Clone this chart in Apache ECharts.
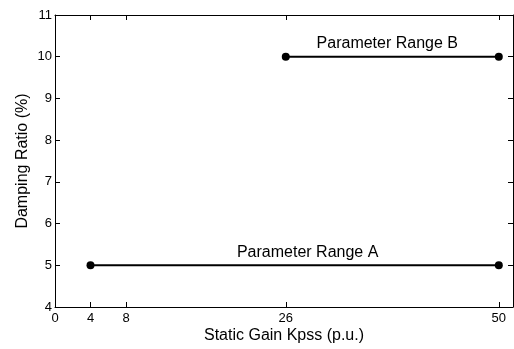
<!DOCTYPE html>
<html><head><meta charset="utf-8">
<script src="https://cdn.jsdelivr.net/npm/echarts@6/dist/echarts.min.js"></script>
<style>html,body{margin:0;padding:0;background:#fff}#c{width:514px;height:349px}</style>
</head><body><div id="c"></div>
<script>
const xTicks = [0, 4, 8, 26, 50];
const rangeA = [[4, 5], [50, 5]];
const rangeB = [[26, 10], [50, 10]];
const labelA = 'Parameter Range A';
const labelB = 'Parameter Range B';
const xTitle = 'Static Gain Kpss (p.u.)';
const yTitle = 'Damping Ratio (%)';

const font = 'Liberation Sans, Arial, sans-serif';
const chart = echarts.init(document.getElementById('c'));
const axLine = {show: true, lineStyle: {color: '#000', width: 1}};
const tick = {show: true, inside: true, length: 5, lineStyle: {color: '#000'}};
function xAxis(pos, showLabels) {
  return {
    type: 'value', position: pos, min: 0, max: 51.6,
    axisLine: Object.assign({onZero: false}, axLine),
    axisTick: Object.assign({customValues: xTicks}, tick),
    axisLabel: {show: showLabels, customValues: xTicks, color: '#000', fontFamily: font, fontSize: 13, margin: 5},
    splitLine: {show: false},
    name: showLabels ? xTitle : '', nameLocation: 'middle', nameGap: 21, nameMoveOverlap: false,
    nameTextStyle: {color: '#000', fontFamily: font, fontSize: 16}
  };
}
function yAxis(pos, showLabels) {
  return {
    type: 'value', position: pos, min: 4, max: 11, interval: 1,
    axisLine: Object.assign({onZero: false}, axLine),
    axisTick: tick,
    axisLabel: {show: showLabels, color: '#000', fontFamily: font, fontSize: 13, margin: 3},
    splitLine: {show: false},
    name: showLabels ? yTitle : '', nameLocation: 'middle', nameGap: 24, nameMoveOverlap: false,
    nameTextStyle: {color: '#000', fontFamily: font, fontSize: 16}
  };
}
function seg(data) {
  return {
    type: 'line', data: data, xAxisIndex: 0, yAxisIndex: 0,
    symbol: 'circle', symbolSize: 8, itemStyle: {color: '#000'},
    lineStyle: {color: '#000', width: 2}, animation: false, silent: true
  };
}
chart.setOption({
  animation: false,
  grid: {left: 55, right: 1, top: 15, bottom: 39},
  xAxis: [xAxis('bottom', true), xAxis('top', false)],
  yAxis: [yAxis('left', true), yAxis('right', false)],
  series: [seg(rangeA), seg(rangeB)]
});
function place() {
  const midA = chart.convertToPixel({xAxisIndex: 0, yAxisIndex: 0}, [(rangeA[0][0] + rangeA[1][0]) / 2, rangeA[0][1]]);
  const midB = chart.convertToPixel({xAxisIndex: 0, yAxisIndex: 0}, [(rangeB[0][0] + rangeB[1][0]) / 2, rangeB[0][1]]);
  const st = {fill: '#000', font: '16px ' + font, textAlign: 'center', textVerticalAlign: 'bottom'};
  chart.setOption({graphic: [
    {type: 'text', x: midA[0] + 13, y: midA[1] - 5, style: Object.assign({text: labelA}, st)},
    {type: 'text', x: midB[0] - 5, y: midB[1] - 5, style: Object.assign({text: labelB}, st)}
  ]});
}
place();
</script></body></html>
